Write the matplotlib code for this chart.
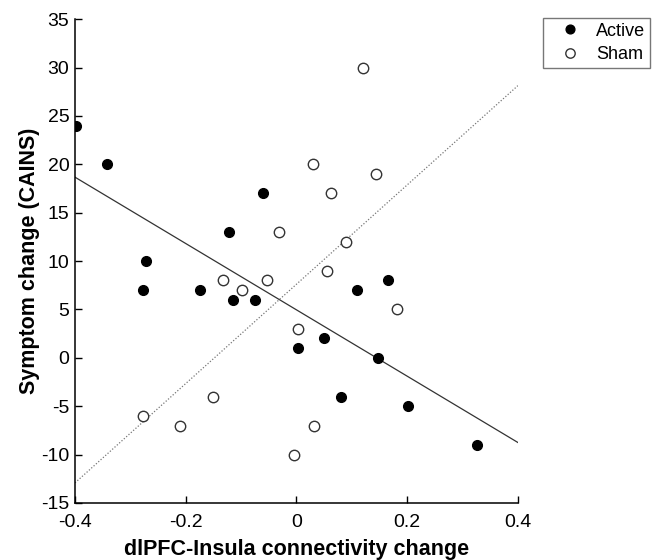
import numpy as np
import matplotlib.pyplot as plt
from matplotlib.ticker import FuncFormatter

plt.rcParams['font.family'] = ['Liberation Sans', 'DejaVu Sans']

# connectivity change (x) and CAINS symptom change (y)
active_x = [-0.398, -0.343, -0.061, -0.121, -0.271, -0.277, -0.174, -0.115, -0.074,
            0.003, 0.166, 0.110, 0.050, 0.147, 0.081, 0.202, 0.327]
active_y = [24, 20, 17, 13, 10, 7, 7, 6, 6, 1, 8, 7, 2, 0, -4, -5, -9]

sham_x = [0.121, 0.030, 0.144, 0.063, -0.031, 0.089, 0.056, -0.132, -0.053, -0.099,
          0.181, 0.003, -0.151, -0.277, -0.210, 0.031, -0.004]
sham_y = [30, 20, 19, 17, 13, 12, 9, 8, 8, 7, 5, 3, -4, -6, -7, -7, -10]

xticks = [-0.4, -0.2, 0, 0.2, 0.4]
xticklabels = ['-0.4', '-0.2', '0', '0.2', '0.4']
yticks = list(range(-15, 36, 5))

fig = plt.figure(figsize=(6.59, 5.6), dpi=100)
ax = fig.add_axes([0.1138, 0.1018, 0.672, 0.864])

xs = np.array([-0.4, 0.4])
pa = np.polyfit(active_x, active_y, 1)
ps = np.polyfit(sham_x, sham_y, 1)
ax.plot(xs, np.polyval(pa, xs), color='#333333', lw=0.9, zorder=1)
ax.plot(xs, np.polyval(ps, xs), color='#777777', lw=0.9, ls=(0, (1, 1.5)), zorder=1)

ax.plot(active_x, active_y, 'o', color='black', ms=7, label='Active', zorder=3)
ax.plot(sham_x, sham_y, 'o', mfc='white', mec='#333333', mew=1.0, ms=7.5,
        label='Sham', zorder=3)

ax.set_xlim(-0.4, 0.4)
ax.set_ylim(-15, 35)
ax.set_xticks(xticks)
ax.set_xticklabels(xticklabels)
ax.set_yticks(yticks)
ax.yaxis.set_major_formatter(FuncFormatter(lambda v, p: '%d' % v))
ax.tick_params(direction='in', length=5, width=1, labelsize=14)
ax.tick_params(axis='x', pad=8)
ax.tick_params(axis='y', pad=4)
for s in ['top', 'right']:
    ax.spines[s].set_visible(False)
for s in ['left', 'bottom']:
    ax.spines[s].set_linewidth(1.1)

ax.set_xlabel('dlPFC-Insula connectivity change', fontsize=15.5, fontweight='bold', labelpad=5.5)
ax.set_ylabel('Symptom change (CAINS)', fontsize=15.5, fontweight='bold', labelpad=1)

leg = ax.legend(loc='upper left', bbox_to_anchor=(1.056, 1.002), fontsize=13,
                frameon=True, fancybox=False, borderpad=0.25, handletextpad=0.2,
                handlelength=2.5, labelspacing=0.35, borderaxespad=0, markerscale=0.9)
leg.get_frame().set_edgecolor('#555555')
leg.get_frame().set_linewidth(1.0)

fig.savefig('out.png', dpi=100)
